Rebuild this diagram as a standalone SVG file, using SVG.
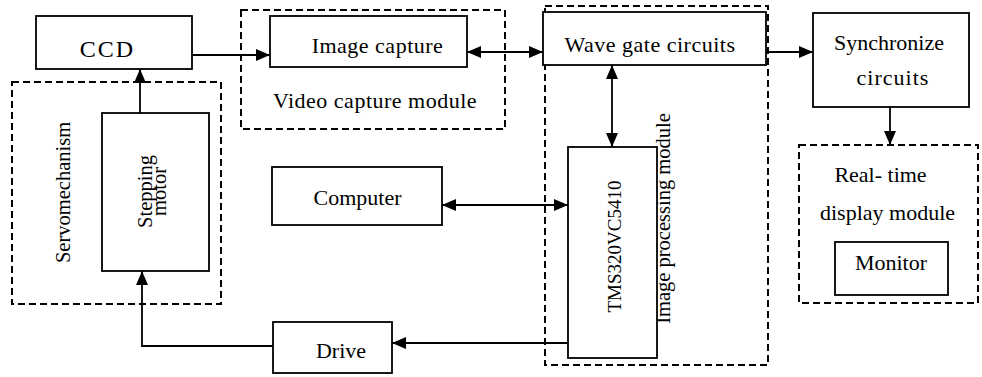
<svg xmlns="http://www.w3.org/2000/svg" width="982" height="377" viewBox="0 0 982 377">
<style>
.box{fill:#fff;stroke:#000;stroke-width:1.8}
.dash{fill:none;stroke:#000;stroke-width:2;stroke-dasharray:7 4}
.t{font-family:"Liberation Serif","Times New Roman",serif;font-size:22px;fill:#000;text-anchor:middle}
.v{font-family:"Liberation Serif","Times New Roman",serif;font-size:20.5px;fill:#000;text-anchor:middle}
.s{font-family:"Liberation Serif","Times New Roman",serif;font-size:19px;fill:#000;text-anchor:middle}
.c{fill:none;stroke:#000;stroke-width:1.8}
</style>
<defs>
<marker id="ah" viewBox="0 0 14 12" refX="14" refY="6" markerWidth="14" markerHeight="12" markerUnits="userSpaceOnUse" orient="auto-start-reverse">
<path d="M0,0 L14,6 L0,12 z" fill="#000"/>
</marker>
</defs>
<rect width="982" height="377" fill="#fff"/>
<g id="video-capture-module">
<rect class="dash" x="241" y="10" width="264" height="119"/>
<text class="t" x="375" y="108" style="letter-spacing:0.5px">Video capture module</text>
</g>
<g id="servomechanism">
<rect class="dash" x="12" y="82" width="209" height="222"/>
<text class="v" transform="translate(70,192.5) rotate(-90)" x="0" y="0">Servomechanism</text>
</g>
<g id="image-processing-module">
<rect class="dash" x="545" y="6" width="223" height="359"/>
<text class="v" transform="translate(670,218.5) rotate(-90)" x="0" y="0">Image processing module</text>
</g>
<g id="real-time-display-module">
<rect class="dash" x="799" y="145" width="179" height="158"/>
<text class="t" x="880.5" y="182">Real- time</text>
<text class="t" x="887.5" y="220">display module</text>
</g>
<g id="ccd">
<rect class="box" x="36" y="16" width="156" height="53"/>
<text class="t" x="107.5" y="57" style="font-size:24px;letter-spacing:2px">CCD</text>
</g>
<g id="image-capture">
<rect class="box" x="270" y="16" width="197" height="51"/>
<text class="t" x="377.5" y="53" style="letter-spacing:0.5px">Image capture</text>
</g>
<g id="wave-gate-circuits">
<rect class="box" x="543" y="12" width="223" height="53"/>
<text class="t" x="650" y="52" style="letter-spacing:0.5px">Wave gate circuits</text>
</g>
<g id="synchronize-circuits">
<rect class="box" x="813" y="13" width="156" height="94"/>
<text class="t" x="889" y="50">Synchronize</text>
<text class="t" x="893" y="85" style="letter-spacing:1px">circuits</text>
</g>
<g id="stepping-motor">
<rect class="box" x="102" y="113" width="107" height="158"/>
<text class="s" transform="translate(152,191.5) rotate(-90)" x="0" y="0" style="font-size:20.5px">Stepping</text>
<text class="s" transform="translate(166,191.5) rotate(-90)" x="0" y="0" style="font-size:20.5px">motor</text>
</g>
<g id="computer">
<rect class="box" x="272" y="167" width="170" height="58"/>
<text class="t" x="357.5" y="205">Computer</text>
</g>
<g id="drive">
<rect class="box" x="273" y="322" width="119" height="51"/>
<text class="t" x="341" y="358">Drive</text>
</g>
<g id="tms320vc5410">
<rect class="box" x="568" y="147" width="89" height="211"/>
<text class="s" transform="translate(621,246.5) rotate(-90)" x="0" y="0">TMS320VC5410</text>
</g>
<g id="monitor">
<rect class="box" x="835" y="242" width="113" height="53"/>
<text class="t" x="891" y="270">Monitor</text>
</g>
<g id="connectors">
<line class="c" x1="192" y1="55" x2="270" y2="55" marker-end="url(#ah)"/>
<line class="c" x1="467" y1="52" x2="543" y2="52" marker-start="url(#ah)" marker-end="url(#ah)"/>
<line class="c" x1="766" y1="52" x2="813" y2="52" marker-end="url(#ah)"/>
<line class="c" x1="890" y1="107" x2="890" y2="145" marker-end="url(#ah)"/>
<line class="c" x1="612" y1="65" x2="612" y2="147" marker-start="url(#ah)" marker-end="url(#ah)"/>
<line class="c" x1="442" y1="205" x2="568" y2="205" marker-start="url(#ah)" marker-end="url(#ah)"/>
<line class="c" x1="568" y1="343" x2="392" y2="343" marker-end="url(#ah)"/>
<polyline class="c" points="273,346 142,346 142,271" marker-end="url(#ah)"/>
<line class="c" x1="140" y1="113" x2="140" y2="69" marker-end="url(#ah)"/>
</g>
</svg>
